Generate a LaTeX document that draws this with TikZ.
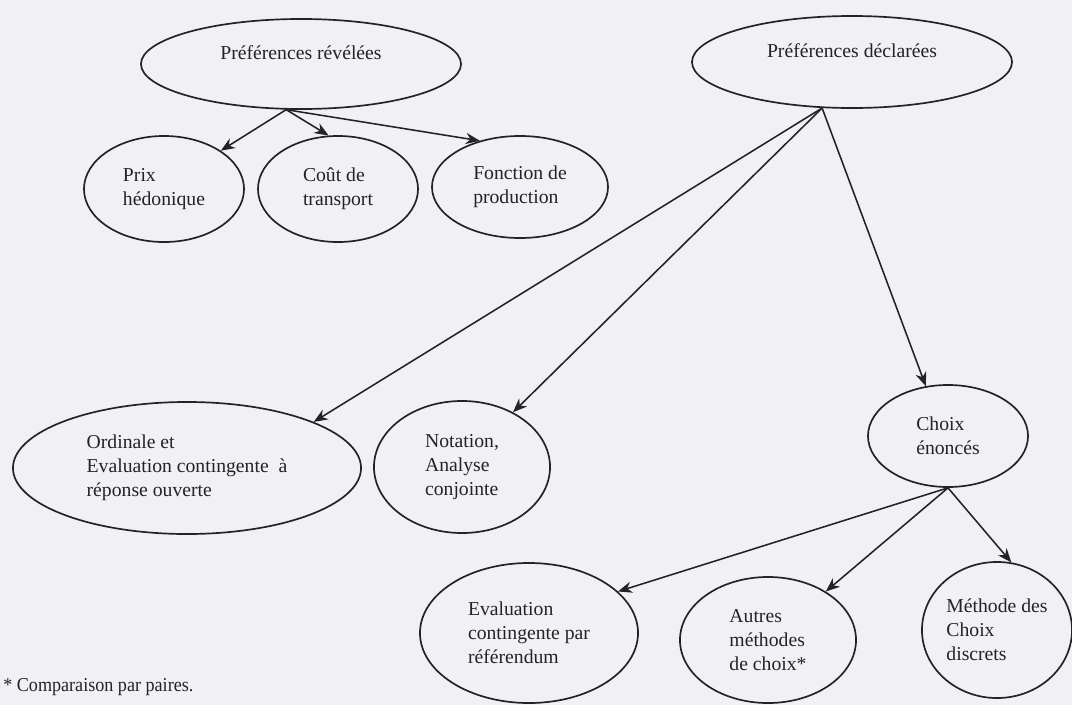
\documentclass[tikz,border=0pt]{standalone}
\usepackage{fontspec}
\setmainfont{Liberation Serif}
\newfontfamily\narrowserif[FakeStretch=0.92]{Liberation Serif}
\usetikzlibrary{shapes.geometric,arrows.meta}
\definecolor{paper}{RGB}{241,241,243}
\definecolor{ink}{RGB}{38,32,42}

\begin{document}
\begin{tikzpicture}[x=0.025cm,y=-0.025cm,
  oval/.style={ellipse,draw=ink,line width=1.2pt,inner sep=0pt,align=left,text=ink,
    font=\fontsize{14pt}{17pt}\selectfont},
  link/.style={draw=ink,line width=1.1pt,-{Stealth[length=10pt,width=8pt]}}]
\fill[paper] (0,0) rectangle (1072,705);
\useasboundingbox (0,0) rectangle (1072,705);

\node (rev) [oval,minimum width=8cm,minimum height=2.25cm,text depth=16pt] at (301,64) {Préférences révélées};
\node (decl) [oval,minimum width=8cm,minimum height=2.3cm,text depth=16pt] at (852,62) {Préférences déclarées};

\node (prix) [oval,minimum width=4cm,minimum height=2.65cm] at (164,189) {Prix\\hédonique};
\node (cout) [oval,minimum width=4cm,minimum height=2.65cm] at (338,189) {Coût de\\transport};
\node (fonc) [oval,minimum width=4.4cm,minimum height=2.55cm] at (520,187) {Fonction de\\production};

\node (ordi) [oval,minimum width=8.7cm,minimum height=3.3cm] at (187,468) {Ordinale et\\Evaluation contingente\ \ à\\réponse ouverte};
\node (nota) [oval,minimum width=4.4cm,minimum height=3.3cm] at (462,467) {Notation,\\Analyse\\conjointe};
\node (choix) [oval,minimum width=4cm,minimum height=2.55cm] at (948,436) {Choix\\énoncés};

\node (refe) [oval,minimum width=5.45cm,minimum height=3.5cm] at (529,633) {Evaluation\\contingente par\\référendum};
\node (autr) [oval,minimum width=4.4cm,minimum height=3.15cm] at (768,640) {Autres\\méthodes\\de choix*};
\node (disc) [oval,minimum width=3.75cm,minimum height=3.4cm] at (997,630) {Méthode des\\Choix\\discrets};

\node (note) [anchor=west,inner sep=0pt,text=ink,font=\narrowserif\fontsize{14pt}{17pt}\selectfont] at (3,687) {* Comparaison par paires.};

\draw[link] (rev.252) -- (prix.34);
\draw[link] (rev.252) -- (cout.100);
\draw[link] (rev.252) -- (fonc.131);

\draw[link] (decl.237) -- (ordi.20);
\draw[link] (decl.237) -- (nota.47);
\draw[link] (decl.237) -- (choix.114);

\draw[link] (choix.south) -- (refe.25);
\draw[link] (choix.south) -- (autr.40);
\draw[link] (choix.south) -- (disc.78);
\end{tikzpicture}
\end{document}
